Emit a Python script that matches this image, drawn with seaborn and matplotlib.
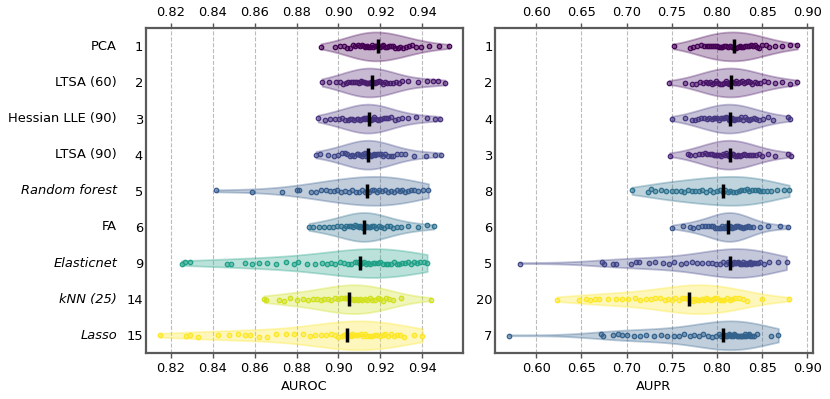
import numpy as np
import pandas as pd
import matplotlib
matplotlib.use("Agg")
import matplotlib.pyplot as plt
import matplotlib.transforms as mtransforms
from matplotlib.collections import PolyCollection
import seaborn as sns

# ---------------- data ----------------
methods = ["PCA", "LTSA (60)", "Hessian LLE (90)", "LTSA (90)", "Random forest",
           "FA", "Elasticnet", "kNN (25)", "Lasso"]
italic_methods = ["Random forest", "Elasticnet", "kNN (25)", "Lasso"]
auroc_ranks = [1, 2, 3, 4, 5, 6, 9, 14, 15]
aupr_ranks = [1, 2, 4, 3, 8, 6, 5, 20, 7]
auroc_ticks = [0.82, 0.84, 0.86, 0.88, 0.90, 0.92, 0.94]
aupr_ticks = [0.60, 0.65, 0.70, 0.75, 0.80, 0.85, 0.90]

auroc_pca = [0.8917, 0.8985, 0.9005, 0.9025, 0.9040, 0.9055, 0.9068, 0.9080, 0.9092, 0.9103, 0.9112,
             0.9120, 0.9128, 0.9136, 0.9143, 0.9150, 0.9158, 0.9165, 0.9172, 0.9180, 0.9190, 0.9198,
             0.9206, 0.9214, 0.9222, 0.9231, 0.9240, 0.9250, 0.9260, 0.9270, 0.9282, 0.9295, 0.9308,
             0.9320, 0.9335, 0.9350, 0.9368, 0.9392, 0.9430, 0.9480, 0.9527]
auroc_ltsa60 = [0.8922, 0.8955, 0.8990, 0.9008, 0.9022, 0.9035, 0.9047, 0.9058, 0.9068, 0.9078, 0.9088,
                0.9097, 0.9106, 0.9114, 0.9122, 0.9130, 0.9137, 0.9143, 0.9149, 0.9155, 0.9160, 0.9166,
                0.9172, 0.9179, 0.9186, 0.9194, 0.9203, 0.9212, 0.9222, 0.9233, 0.9245, 0.9258, 0.9272,
                0.9288, 0.9305, 0.9330, 0.9380, 0.9420, 0.9450, 0.9475, 0.9508]
auroc_hlle90 = [0.8903, 0.8935, 0.8960, 0.8985, 0.9002, 0.9018, 0.9032, 0.9044, 0.9055, 0.9066, 0.9076,
                0.9086, 0.9095, 0.9104, 0.9112, 0.9120, 0.9127, 0.9133, 0.9138, 0.9142, 0.9146, 0.9151,
                0.9157, 0.9164, 0.9171, 0.9179, 0.9187, 0.9196, 0.9205, 0.9215, 0.9226, 0.9238, 0.9252,
                0.9268, 0.9285, 0.9305, 0.9330, 0.9370, 0.9420, 0.9460, 0.9484]
auroc_ltsa90 = [0.8893, 0.8912, 0.8950, 0.8978, 0.8998, 0.9015, 0.9030, 0.9043, 0.9055, 0.9066, 0.9076,
                0.9086, 0.9095, 0.9103, 0.9111, 0.9118, 0.9125, 0.9131, 0.9136, 0.9140, 0.9143, 0.9148,
                0.9154, 0.9161, 0.9168, 0.9176, 0.9184, 0.9193, 0.9202, 0.9212, 0.9223, 0.9235, 0.9248,
                0.9262, 0.9278, 0.9296, 0.9318, 0.9360, 0.9415, 0.9460, 0.9488]
auroc_rf = [0.8416, 0.8590, 0.8730, 0.8800, 0.8812, 0.8870, 0.8895, 0.8918, 0.8940, 0.8960, 0.8978,
            0.8995, 0.9012, 0.9030, 0.9048, 0.9065, 0.9082, 0.9098, 0.9112, 0.9125, 0.9136, 0.9147,
            0.9158, 0.9170, 0.9182, 0.9195, 0.9208, 0.9222, 0.9236, 0.9250, 0.9264, 0.9278, 0.9292,
            0.9305, 0.9318, 0.9332, 0.9347, 0.9362, 0.9380, 0.9405, 0.9429]
auroc_fa = [0.8860, 0.8878, 0.8905, 0.8930, 0.8955, 0.8975, 0.8993, 0.9010, 0.9025, 0.9038, 0.9050,
            0.9061, 0.9071, 0.9080, 0.9088, 0.9096, 0.9103, 0.9110, 0.9115, 0.9119, 0.9122, 0.9126,
            0.9131, 0.9137, 0.9144, 0.9152, 0.9161, 0.9170, 0.9180, 0.9191, 0.9203, 0.9216, 0.9230,
            0.9245, 0.9262, 0.9280, 0.9300, 0.9330, 0.9380, 0.9420, 0.9454]
auroc_enet = [0.8252, 0.8268, 0.8290, 0.8470, 0.8490, 0.8555, 0.8590, 0.8620, 0.8660, 0.8700, 0.8750,
              0.8790, 0.8805, 0.8850, 0.8890, 0.8920, 0.8945, 0.8965, 0.8985, 0.9005, 0.9025, 0.9045,
              0.9062, 0.9078, 0.9090, 0.9101, 0.9110, 0.9120, 0.9130, 0.9141, 0.9152, 0.9163, 0.9175,
              0.9187, 0.9199, 0.9212, 0.9225, 0.9238, 0.9251, 0.9264, 0.9277, 0.9290, 0.9303, 0.9317,
              0.9331, 0.9345, 0.9360, 0.9375, 0.9390, 0.9408, 0.9423]
auroc_knn = [0.8646, 0.8655, 0.8715, 0.8740, 0.8770, 0.8800, 0.8830, 0.8855, 0.8878, 0.8898, 0.8916,
             0.8933, 0.8950, 0.8966, 0.8982, 0.8997, 0.9011, 0.9024, 0.9035, 0.9043, 0.9048, 0.9055,
             0.9063, 0.9072, 0.9082, 0.9092, 0.9103, 0.9114, 0.9126, 0.9138, 0.9150, 0.9162, 0.9175,
             0.9188, 0.9200, 0.9212, 0.9225, 0.9240, 0.9262, 0.9300, 0.9440]
auroc_lasso = [0.8149, 0.8275, 0.8290, 0.8330, 0.8425, 0.8480, 0.8520, 0.8555, 0.8580, 0.8620, 0.8660,
               0.8700, 0.8750, 0.8790, 0.8830, 0.8865, 0.8890, 0.8915, 0.8940, 0.8962, 0.8982, 0.9000,
               0.9015, 0.9028, 0.9037, 0.9043, 0.9050, 0.9058, 0.9066, 0.9075, 0.9085, 0.9095, 0.9105,
               0.9116, 0.9127, 0.9138, 0.9150, 0.9162, 0.9174, 0.9186, 0.9198, 0.9210, 0.9222, 0.9235,
               0.9250, 0.9265, 0.9280, 0.9295, 0.9310, 0.9360, 0.9400]

aupr_pca = [0.7523, 0.7700, 0.7740, 0.7780, 0.7820, 0.7855, 0.7885, 0.7910, 0.7935, 0.7958, 0.7980,
            0.8000, 0.8020, 0.8040, 0.8060, 0.8080, 0.8100, 0.8125, 0.8150, 0.8170, 0.8190, 0.8210,
            0.8230, 0.8250, 0.8270, 0.8290, 0.8310, 0.8330, 0.8350, 0.8372, 0.8395, 0.8420, 0.8445,
            0.8470, 0.8500, 0.8540, 0.8580, 0.8640, 0.8720, 0.8810, 0.8890]
aupr_ltsa60 = [0.7472, 0.7650, 0.7720, 0.7770, 0.7810, 0.7845, 0.7875, 0.7900, 0.7925, 0.7950, 0.7972,
               0.7995, 0.8015, 0.8035, 0.8055, 0.8075, 0.8095, 0.8115, 0.8135, 0.8150, 0.8160, 0.8175,
               0.8195, 0.8215, 0.8235, 0.8255, 0.8275, 0.8295, 0.8318, 0.8340, 0.8365, 0.8390, 0.8418,
               0.8448, 0.8480, 0.8520, 0.8570, 0.8640, 0.8720, 0.8810, 0.8885]
aupr_hlle90 = [0.7500, 0.7650, 0.7720, 0.7755, 0.7790, 0.7825, 0.7858, 0.7888, 0.7915, 0.7940, 0.7962,
               0.7982, 0.8002, 0.8022, 0.8042, 0.8062, 0.8082, 0.8102, 0.8118, 0.8130, 0.8140, 0.8152,
               0.8168, 0.8185, 0.8203, 0.8222, 0.8242, 0.8262, 0.8283, 0.8305, 0.8328, 0.8352, 0.8378,
               0.8405, 0.8435, 0.8470, 0.8515, 0.8570, 0.8620, 0.8790, 0.8810]
aupr_ltsa90 = [0.7476, 0.7680, 0.7700, 0.7760, 0.7800, 0.7835, 0.7865, 0.7892, 0.7918, 0.7942, 0.7965,
               0.7986, 0.8006, 0.8026, 0.8046, 0.8066, 0.8086, 0.8104, 0.8120, 0.8132, 0.8140, 0.8150,
               0.8165, 0.8182, 0.8200, 0.8218, 0.8238, 0.8258, 0.8280, 0.8302, 0.8326, 0.8350, 0.8376,
               0.8402, 0.8430, 0.8460, 0.8500, 0.8560, 0.8640, 0.8790, 0.8820]
aupr_rf = [0.7060, 0.7240, 0.7270, 0.7320, 0.7380, 0.7440, 0.7500, 0.7550, 0.7600, 0.7640, 0.7680,
           0.7720, 0.7760, 0.7800, 0.7840, 0.7880, 0.7920, 0.7960, 0.8000, 0.8035, 0.8064, 0.8090,
           0.8120, 0.8150, 0.8180, 0.8210, 0.8240, 0.8270, 0.8300, 0.8330, 0.8360, 0.8390, 0.8420,
           0.8450, 0.8480, 0.8510, 0.8550, 0.8600, 0.8660, 0.8740, 0.8800]
aupr_fa = [0.7505, 0.7620, 0.7700, 0.7740, 0.7790, 0.7830, 0.7870, 0.7900, 0.7930, 0.7955, 0.7980,
           0.8000, 0.8020, 0.8040, 0.8058, 0.8075, 0.8090, 0.8103, 0.8113, 0.8121, 0.8127, 0.8135,
           0.8145, 0.8157, 0.8170, 0.8185, 0.8200, 0.8216, 0.8233, 0.8250, 0.8268, 0.8287, 0.8305,
           0.8325, 0.8345, 0.8370, 0.8400, 0.8480, 0.8560, 0.8700, 0.8790]
aupr_enet = [0.5817, 0.6730, 0.6750, 0.6850, 0.6880, 0.7050, 0.7100, 0.7140, 0.7250, 0.7320, 0.7400,
             0.7470, 0.7530, 0.7600, 0.7660, 0.7720, 0.7780, 0.7840, 0.7900, 0.7950, 0.7990, 0.8030,
             0.8070, 0.8100, 0.8125, 0.8140, 0.8155, 0.8170, 0.8185, 0.8200, 0.8215, 0.8230, 0.8245,
             0.8260, 0.8275, 0.8290, 0.8305, 0.8320, 0.8335, 0.8350, 0.8365, 0.8380, 0.8395, 0.8410,
             0.8430, 0.8450, 0.8480, 0.8520, 0.8580, 0.8680, 0.8770]
aupr_knn = [0.6232, 0.6470, 0.6550, 0.6600, 0.6650, 0.6700, 0.6800, 0.6880, 0.6950, 0.7020, 0.7090,
            0.7150, 0.7210, 0.7270, 0.7320, 0.7370, 0.7420, 0.7460, 0.7500, 0.7540, 0.7580, 0.7610,
            0.7640, 0.7665, 0.7680, 0.7693, 0.7710, 0.7730, 0.7755, 0.7780, 0.7805, 0.7830, 0.7855,
            0.7880, 0.7905, 0.7930, 0.7955, 0.7980, 0.8005, 0.8030, 0.8055, 0.8080, 0.8110, 0.8140,
            0.8170, 0.8200, 0.8240, 0.8290, 0.8330, 0.8500, 0.8800]
aupr_lasso = [0.5702, 0.6720, 0.6740, 0.6850, 0.6900, 0.6950, 0.7000, 0.7080, 0.7150, 0.7220, 0.7300,
              0.7380, 0.7450, 0.7520, 0.7580, 0.7640, 0.7700, 0.7750, 0.7800, 0.7850, 0.7900, 0.7950,
              0.7990, 0.8025, 0.8050, 0.8068, 0.8085, 0.8100, 0.8115, 0.8130, 0.8145, 0.8160, 0.8175,
              0.8190, 0.8205, 0.8220, 0.8235, 0.8250, 0.8265, 0.8280, 0.8295, 0.8310, 0.8325, 0.8340,
              0.8355, 0.8370, 0.8390, 0.8410, 0.8440, 0.8600, 0.8680]

auroc_data = [auroc_pca, auroc_ltsa60, auroc_hlle90, auroc_ltsa90, auroc_rf,
              auroc_fa, auroc_enet, auroc_knn, auroc_lasso]
aupr_data = [aupr_pca, aupr_ltsa60, aupr_hlle90, aupr_ltsa90, aupr_rf,
             aupr_fa, aupr_enet, aupr_knn, aupr_lasso]


def long_frame(series):
    rows = []
    for m, vals in zip(methods, series):
        for v in vals:
            rows.append((m, v))
    return pd.DataFrame(rows, columns=["method", "value"])


# ---------------- figure ----------------
sns.set_style("white")
plt.rcParams["font.family"] = ["DejaVu Sans"]
plt.rcParams["text.color"] = "black"
plt.rcParams["axes.labelcolor"] = "black"
plt.rcParams["xtick.color"] = "black"
plt.rcParams["ytick.color"] = "black"
FS = 9.4
fig = plt.figure(figsize=(8.30, 3.99), dpi=100)
axL = fig.add_axes([0.1755, 0.1145, 0.3827, 0.8145])
axR = fig.add_axes([0.5967, 0.1145, 0.3825, 0.8145])

np.random.seed(3)

panels = [
    (axL, auroc_data, auroc_ranks, auroc_ticks, "AUROC", (0.8081, 0.9595)),
    (axR, aupr_data, aupr_ranks, aupr_ticks, "AUPR", (0.5547, 0.906)),
]

for ax, data, ranks, ticks, label, xlim in panels:
    df = long_frame(data)
    maxr = max(ranks)
    pal = {m: plt.cm.viridis((r - 1) / (maxr - 1)) for m, r in zip(methods, ranks)}

    ax.xaxis.grid(True, linestyle="--", color="#bcbcbc", linewidth=0.8, zorder=0)
    ax.set_axisbelow(True)

    sns.violinplot(data=df, x="value", y="method", hue="method", order=methods,
                   hue_order=methods, palette=pal, cut=0, inner=None, bw_adjust=1.3,
                   density_norm="width", width=0.8, saturation=1, linewidth=1.3,
                   legend=False, ax=ax)
    for coll in ax.collections:
        if isinstance(coll, PolyCollection):
            fc = coll.get_facecolor()[0]
            coll.set_facecolor((fc[0], fc[1], fc[2], 0.3))
            coll.set_edgecolor((fc[0], fc[1], fc[2], 0.32))
    n_before = len(ax.collections)
    sns.stripplot(data=df, x="value", y="method", hue="method", order=methods,
                  hue_order=methods, palette=pal, jitter=0.04, size=3.2,
                  linewidth=0.9, legend=False, ax=ax, zorder=3)
    for coll in ax.collections[n_before:]:
        fc = coll.get_facecolor()
        if len(fc):
            c = fc[0]
            coll.set_edgecolor((c[0], c[1], c[2], 1.0))
            coll.set_facecolor((c[0], c[1], c[2], 0.5))

    meds = [float(np.median(v)) for v in data]
    ax.plot(meds, range(len(methods)), linestyle="none", marker="|",
            markersize=10, markeredgewidth=2.5, color="black", zorder=5)

    ax.set_xlim(*xlim)
    ax.set_ylim(8.5, -0.5)
    ax.set_xticks(ticks)
    ax.set_xticklabels([f"{t:.2f}" for t in ticks])
    ax.set_yticks(range(len(methods)))
    ax.set_yticklabels([str(r) for r in ranks])
    ax.tick_params(axis="x", top=True, labeltop=True, bottom=True, labelbottom=True,
                   length=3.5, width=1, color="#555555", pad=3, labelsize=FS)
    ax.tick_params(axis="y", length=0, pad=2, labelsize=FS)
    ax.set_xlabel(label, fontsize=FS, labelpad=3)
    ax.set_ylabel("")
    for sp in ax.spines.values():
        sp.set_visible(True)
        sp.set_color("#5a5a5a")
        sp.set_linewidth(1.6)

# method names on the left
trans = mtransforms.blended_transform_factory(axL.transAxes, axL.transData)
for i, m in enumerate(methods):
    axL.text(-0.09, i, m, transform=trans, ha="right", va="center", fontsize=FS,
             style="italic" if m in italic_methods else "normal")

fig.savefig("out.png", dpi=100)
